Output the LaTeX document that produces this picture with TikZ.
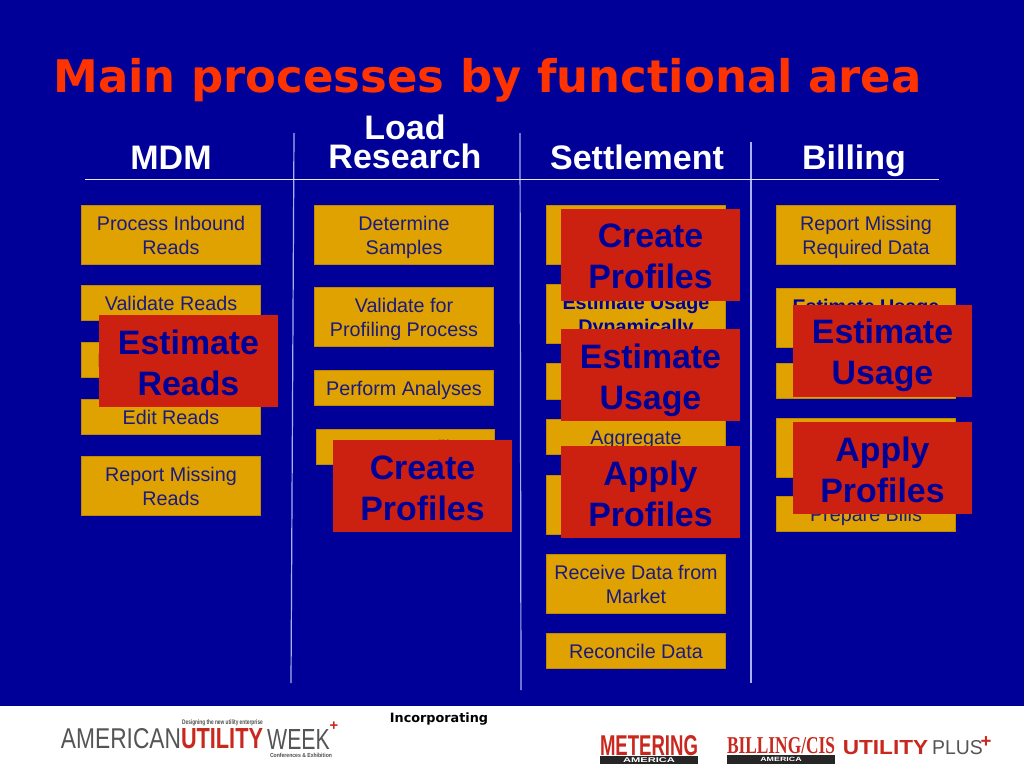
\documentclass[tikz,border=0pt]{standalone}
\usepackage{fontspec}
\usepackage{graphicx}
\setmainfont{Liberation Sans}
\newfontfamily\dejavu{DejaVu Sans}
\newfontfamily\libserif{Liberation Serif}
\definecolor{bgblue}{HTML}{000099}
\definecolor{gold}{HTML}{DFA200}
\definecolor{redbox}{HTML}{CC2010}
\definecolor{titlered}{HTML}{FF3300}
\definecolor{inkblue}{HTML}{1A1A80}
\definecolor{sepline}{HTML}{A8B0F0}
\definecolor{logogrey}{HTML}{555555}
\definecolor{logored}{HTML}{C8281E}
\tikzset{
  x=0.75pt,y=-0.75pt,
  goldrect/.style={draw=gold!85!black,line width=0.4pt,fill=gold,inner sep=0pt,outer sep=0pt},
  goldlabel/.style={inner sep=0pt,align=center,text=inkblue,font=\fontsize{14.8}{18}\selectfont},
  goldbold/.style={goldlabel,font=\fontsize{14.8}{18}\selectfont\bfseries,text=bgblue},
  redtag/.style={fill=redbox,inner sep=0pt,outer sep=0pt,minimum width=134.25pt,minimum height=69pt},
  redlabel/.style={inner sep=0pt,align=center,text=bgblue,font=\fontsize{25.4}{30.75}\selectfont\bfseries},
  header/.style={text=white,align=center,inner sep=0pt,font=\fontsize{25.5}{21.75}\selectfont\bfseries},
  sep/.style={draw=sepline,line width=0.9pt},
  rulesep/.style={draw=white!90!blue,line width=0.6pt},
  logotext/.style={inner sep=0pt}
}
% name, x1, y1, x2, y2
\newcommand{\gempty}[5]{%
  \node[goldrect,minimum width={(#4-#2-0.6)*0.75pt},minimum height={(#5-#3-0.6)*0.75pt}] (#1) at ({(#2+#4)/2},{(#3+#5)/2}) {};}
% label style, name, x1, y1, x2, y2, text
\newcommand{\gbox}[7][goldlabel]{%
  \gempty{#2}{#3}{#4}{#5}{#6}%
  \node[#1] (#2l) at ({(#3+#5)/2},{(#4+#6)/2+2.8}) {\strut #7\strut};}
% name, cx, cy, label offset, text
\newcommand{\rtag}[5]{\node[redtag] (#1) at (#2,#3) {}; \node[redlabel] (#1l) at (#2,#3+#4) {#5};}
\begin{document}
\begin{tikzpicture}
\useasboundingbox (0,0) rectangle (1024,768);
\fill[bgblue] (0,0) rectangle (1024,706);
\fill[white] (0,706) rectangle (1024,768);

\node[text=titlered,inner sep=0pt,font=\dejavu\fontsize{33.7}{40}\selectfont\bfseries] (title) at (487.5,80) {Main processes by functional area};

\node[header,anchor=base] (hmdm) at (171,169) {MDM};
\node[header] (hload) at (405,141.5) {Load\\Research};
\node[header,anchor=base] (hsett) at (637,169) {Settlement};
\node[header,anchor=base] (hbill) at (854,169) {Billing};

\coordinate (ruleL) at (85,179.5);
\coordinate (ruleR) at (939,179.5);
\coordinate (s1a) at (294,133); \coordinate (s1b) at (291,683);
\coordinate (s2a) at (520,133); \coordinate (s2b) at (521,690);
\coordinate (s3a) at (751,142); \coordinate (s3b) at (751,683);
\draw[sep] (s1a) -- (s1b);
\draw[sep] (s2a) -- (s2b);
\draw[sep] (s3a) -- (s3b);
\draw[rulesep] (ruleL) -- (ruleR);

% MDM
\gbox{m1}{81}{205}{261}{265}{Process Inbound\\Reads}
\gbox{m2}{81}{285}{261}{321}{Validate Reads}
\gbox[goldbold]{m3}{81}{342}{261}{378}{Estimate Reads}
\gbox{m4}{81}{399}{261}{435}{Edit Reads}
\gbox{m5}{81}{456}{261}{516}{Report Missing\\Reads}
% Load research
\gbox{l1}{314}{205}{494}{265}{Determine\\Samples}
\gbox{l2}{314}{287}{494}{347}{Validate for\\Profiling Process}
\gbox{l3}{314}{370}{494}{406}{Perform Analyses}
\gbox{l4}{316}{429}{495}{465}{Create Profiles}
% Settlement
\gempty{s1}{546}{205}{726}{265}
\gbox[goldbold]{s2}{546}{284}{726}{344}{Estimate Usage\\Dynamically}
\gempty{s3}{546}{363}{726}{400}
\gbox{s4}{546}{419}{726}{455}{Aggregate}
\gempty{s5}{546}{475}{726}{535}
\gbox{s6}{546}{554}{726}{614}{Receive Data from\\Market}
\gbox{s7}{546}{633}{726}{669}{Reconcile Data}
% Billing
\gbox{b1}{776}{205}{956}{265}{Report Missing\\Required Data}
\gbox[goldbold]{b2}{776}{288}{956}{348}{Estimate Usage\\Dynamically}
\gempty{b3}{776}{363}{956}{399}
\gempty{b4}{776}{418}{956}{478}
\gbox{b5}{776}{496}{956}{532}{Prepare Bills}

% red tags
\rtag{t1}{188.5}{361}{2}{Estimate\\Reads}
\rtag{t2}{422.5}{486}{2}{Create\\Profiles}
\rtag{t3}{650.5}{255}{1}{Create\\Profiles}
\rtag{t4}{650.5}{375}{5}{Estimate\\Usage}
\rtag{t5}{650.5}{492}{2}{Apply\\Profiles}
\rtag{t6}{882.5}{351}{4.5}{Estimate\\Usage}
\rtag{t7}{882.5}{468}{2}{Apply\\Profiles}

% footer
\node[inner sep=0pt,text=black,font=\dejavu\fontsize{9.6}{11}\selectfont\bfseries] (inc) at (439,719) {Incorporating};

% American Utility Week logo
\node[logotext,text=logogrey] (aw1) at (121,739) {\resizebox{90pt}{15pt}{AMERICAN}};
\node[logotext,text=logored] (aw2) at (222,739) {\resizebox{61.5pt}{15pt}{\bfseries UTILITY}};
\node[logotext,text=logogrey] (aw3) at (298.5,739) {\resizebox{47pt}{15pt}{WEEK}};
\node[logotext,text=logored] (aw4) at (334,726) {\fontsize{11}{11}\selectfont\bfseries +};
\node[logotext,text=black!70] (aw5) at (222.5,723) {\resizebox{60.5pt}{3.6pt}{\bfseries Designing the new utility enterprise}};
\node[logotext,text=black!70] (aw6) at (301,755) {\resizebox{46.5pt}{3.2pt}{\bfseries Conferences \& Exhibition}};

% Metering America logo
\node[logotext,text=logored] (ma1) at (649,745.5) {\resizebox{73.5pt}{15pt}{\bfseries METERING}};
\fill[black!85] (600,756) rectangle (698,764);
\node[logotext,text=white] (ma2) at (649,760) {\resizebox{39pt}{3.6pt}{\bfseries AMERICA}};

% Billing/CIS America logo
\node[logotext,text=logored] (ba1) at (781,746) {\resizebox{81pt}{12pt}{\libserif\bfseries BILLING/CIS}};
\fill[black!85] (727,754.5) rectangle (835,764);
\node[logotext,text=white] (ba2) at (781,759.5) {\resizebox{31pt}{3.2pt}{\bfseries AMERICA}};

% Utility Plus logo
\node[logotext,text=logored] (up1) at (885.5,748) {\resizebox{64pt}{10.5pt}{\bfseries UTILITY}};
\node[logotext,text=logogrey] (up2) at (957.5,748) {\resizebox{38pt}{10.5pt}{PLUS}};
\node[logotext,text=logored] (up3) at (986,742) {\fontsize{14}{14}\selectfont\bfseries +};
\end{tikzpicture}
\end{document}
